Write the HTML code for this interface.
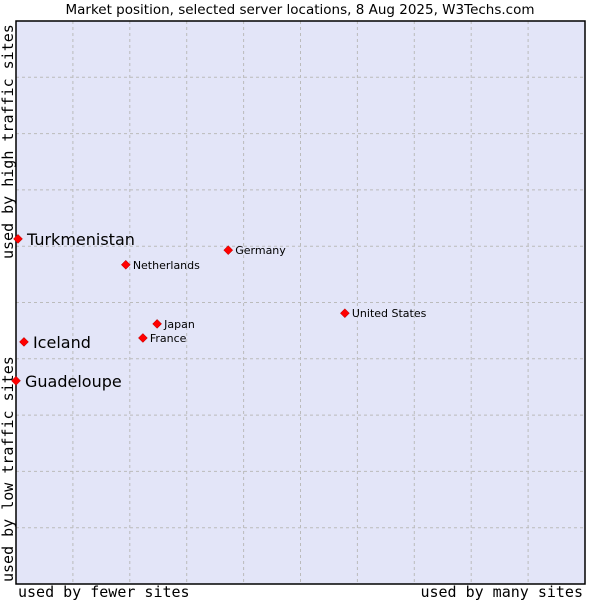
<!DOCTYPE html>
<html><head><meta charset="utf-8"><style>
body{margin:0;background:#fff;width:600px;height:600px;overflow:hidden}
svg text{font-family:"DejaVu Sans","Liberation Sans",sans-serif}
.mono{font-family:"DejaVu Sans Mono","Liberation Mono",monospace}
</style></head><body>
<svg id="chart" width="600" height="600">
<text x="300" y="14" text-anchor="middle" font-size="13.5" fill="#000">Market position, selected server locations, 8 Aug 2025, W3Techs.com</text>
<rect x="16" y="21" width="569" height="563" fill="#e3e5f8"/>
<g id="grid"></g>
<rect x="16" y="21" width="569" height="563" fill="none" stroke="#000" stroke-width="1.5"/>
<g id="points"></g>
<text class="mono" x="18" y="597" font-size="15">used by fewer sites</text>
<text class="mono" x="583" y="597" font-size="15" text-anchor="end">used by many sites</text>
<text class="mono" transform="translate(13,582) rotate(-90)" font-size="15">used by low traffic sites</text>
<text class="mono" transform="translate(13,259) rotate(-90)" font-size="15">used by high traffic sites</text>
</svg>
<script>
const names = ["Turkmenistan","Iceland","Guadeloupe","Netherlands","Germany","United States","Japan","France"];
const xVals = [0.35,1.4,0,19.3,37.3,57.8,24.8,22.3];
const yVals = [61.3,43.0,36.1,56.7,59.3,48.1,46.2,43.7];
const big = [true,true,true,false,false,false,false,false];
const ticks = [10,20,30,40,50,60,70,80,90];
const X0=16,X1=585,Y0=584,Y1=21;
const sx=v=>X0+v/100*(X1-X0);
const sy=v=>Y0-v/100*(Y0-Y1);
const NS="http://www.w3.org/2000/svg";
const grid=document.getElementById('grid');
ticks.forEach(t=>{
  const v=document.createElementNS(NS,'line');
  v.setAttribute('x1',sx(t));v.setAttribute('x2',sx(t));v.setAttribute('y1',Y1);v.setAttribute('y2',Y0);
  v.setAttribute('stroke','#bbb');v.setAttribute('stroke-dasharray','3,3');
  
  
  grid.appendChild(v);
  const h=document.createElementNS(NS,'line');
  h.setAttribute('y1',sy(t));h.setAttribute('y2',sy(t));h.setAttribute('x1',X0);h.setAttribute('x2',X1);
  h.setAttribute('stroke','#bbb');h.setAttribute('stroke-dasharray','3,3');
  
  
  grid.appendChild(h);
});
const pts=document.getElementById('points');
names.forEach((n,i)=>{
  const x=sx(xVals[i]),y=sy(yVals[i]);
  const d=document.createElementNS(NS,'path');
  d.setAttribute('d',`M${x} ${y-4.5}L${x+4.5} ${y}L${x} ${y+4.5}L${x-4.5} ${y}Z`);
  d.setAttribute('fill','#f00');d.setAttribute('stroke','#a00');d.setAttribute('stroke-width','0.5');
  
  
  pts.appendChild(d);
  const t=document.createElementNS(NS,'text');
  t.setAttribute('x',x+(big[i]?9:7));t.setAttribute('y',y+(big[i]?6:4));
  t.setAttribute('font-size',big[i]?16:11);
  t.textContent=n;
  
  
  pts.appendChild(t);
});
</script>
</body></html>
